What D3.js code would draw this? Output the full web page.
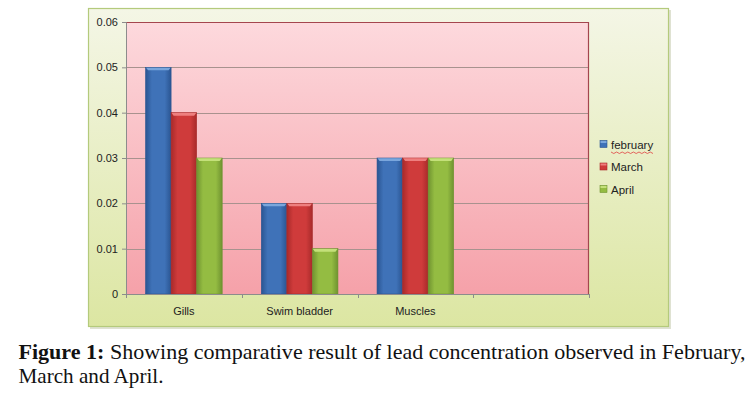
<!DOCTYPE html>
<html><head><meta charset="utf-8">
<script src="https://cdn.jsdelivr.net/npm/d3@7"></script>
<style>body{margin:0;background:#fff}svg{display:block}</style>
</head><body>
<script>
const categories = ["Gills", "Swim bladder", "Muscles", ""];
const seriesNames = ["february", "March", "April"];
const february = [0.05, 0.02, 0.03, null];
const march = [0.04, 0.02, 0.03, null];
const april = [0.03, 0.01, 0.03, null];
const yTicks = [0, 0.01, 0.02, 0.03, 0.04, 0.05, 0.06];
const yTickLabels = ["0", "0.01", "0.02", "0.03", "0.04", "0.05", "0.06"];
const captionBold = "Figure 1:";
const captionLine1 = " Showing comparative result of lead concentration observed in February,";
const captionLine2 = "March and April.";

const seriesValues = [february, march, april];
const colors = [
  {base:"#3f72b8", dark:"#2a5592", light:"#7aa6dc"},
  {base:"#cf3b3b", dark:"#a82a2a", light:"#ee7f7f"},
  {base:"#94bc42", dark:"#6f9330", light:"#c4e07a"}
];

const W = 755, H = 395;
const svg = d3.select("body").append("svg").attr("width", W).attr("height", H);
const defs = svg.append("defs");

const outerG = defs.append("linearGradient").attr("id","outerBg").attr("x1",0).attr("y1",0).attr("x2",0).attr("y2",1);
outerG.append("stop").attr("offset","0%").attr("stop-color","#f4f6e6");
outerG.append("stop").attr("offset","100%").attr("stop-color","#dce6a2");
const plotG = defs.append("linearGradient").attr("id","plotBg").attr("x1",0).attr("y1",0).attr("x2",0).attr("y2",1);
plotG.append("stop").attr("offset","0%").attr("stop-color","#fdd9dd");
plotG.append("stop").attr("offset","100%").attr("stop-color","#f5a1a9");
colors.forEach((c,i)=>{
  const g = defs.append("linearGradient").attr("id","bar"+i).attr("x1",0).attr("y1",0).attr("x2",1).attr("y2",0);
  g.append("stop").attr("offset","0%").attr("stop-color",c.dark);
  g.append("stop").attr("offset","25%").attr("stop-color",c.base);
  g.append("stop").attr("offset","75%").attr("stop-color",c.base);
  g.append("stop").attr("offset","100%").attr("stop-color",c.dark);
});

// outer chart frame
svg.append("rect").attr("x",90).attr("y",10).attr("width",581).attr("height",319).attr("fill","#c9cfb4").attr("opacity",0.6);
svg.append("rect").attr("x",88.5).attr("y",8.5).attr("width",580).attr("height",318)
  .attr("fill","url(#outerBg)").attr("stroke","#b4ca7c").attr("stroke-width",1.2);

const plot = {left:126, right:589, top:22, bottom:294};

const x0 = d3.scaleBand().domain(categories.map((d,i)=>i)).range([plot.left, plot.right]).paddingInner(0).paddingOuter(0);
const x1 = d3.scaleBand().domain(seriesNames).range([0, x0.bandwidth()]).paddingInner(0).paddingOuter(0.765);
const y = d3.scaleLinear().domain([0, 0.06]).range([plot.bottom, plot.top]);

svg.append("rect").attr("x",plot.left).attr("y",plot.top).attr("width",plot.right-plot.left).attr("height",plot.bottom-plot.top).attr("fill","url(#plotBg)");

// gridlines
svg.append("g").selectAll("line").data(yTicks.slice(1,-1)).join("line")
  .attr("x1",plot.left).attr("x2",plot.right)
  .attr("y1",d=>Math.round(y(d))+0.5).attr("y2",d=>Math.round(y(d))+0.5)
  .attr("stroke","#a8928e").attr("stroke-width",1);

// plot border top/right
svg.append("path").attr("d",`M${plot.left},${plot.top+0.5}H${plot.right-0.5}V${plot.bottom}`)
  .attr("fill","none").attr("stroke","#a4464e").attr("stroke-width",1.2);

// bars
const groups = svg.append("g").selectAll("g").data(seriesNames).join("g");
groups.each(function(name, si){
  const g = d3.select(this);
  const data = seriesValues[si].map((v,ci)=>({v,ci})).filter(d=>d.v!=null);
  const bw = x1.bandwidth();
  g.selectAll("rect.b").data(data).join("rect").attr("class","b")
    .attr("x",d=>x0(d.ci)+x1(name)).attr("y",d=>y(d.v))
    .attr("width",bw).attr("height",d=>y(0)-y(d.v))
    .attr("fill","url(#bar"+si+")").attr("stroke",colors[si].dark).attr("stroke-width",0.6);
  g.selectAll("path.top").data(data).join("path").attr("class","top")
    .attr("d",d=>{const xx=x0(d.ci)+x1(name), yy=y(d.v);
      return `M${xx+0.5},${yy+0.3}H${xx+bw-0.5}L${xx+bw-2.5},${yy+3}H${xx+2.5}Z`;})
    .attr("fill",colors[si].light);
});

// axes
const yAxis = d3.axisLeft(y).tickValues(yTicks).tickFormat((d,i)=>yTickLabels[i]).tickSize(4).tickPadding(4);
const ya = svg.append("g").attr("transform",`translate(${plot.left},0)`).call(yAxis);
ya.select(".domain").attr("stroke","#8c8c8c");
ya.selectAll(".tick line").attr("stroke","#8c8c8c");
ya.selectAll("text").attr("font-family","'Liberation Sans', Arial, sans-serif").attr("font-size",11).attr("fill","#222");

const xa = svg.append("g").attr("transform",`translate(0,${plot.bottom})`);
xa.append("line").attr("x1",plot.left).attr("x2",plot.right).attr("y1",0.5).attr("y2",0.5).attr("stroke","#8c8c8c");
xa.selectAll("line.t").data(d3.range(categories.length+1)).join("line").attr("class","t")
  .attr("x1",i=>Math.round(plot.left + i*x0.bandwidth())+0.5).attr("x2",i=>Math.round(plot.left + i*x0.bandwidth())+0.5)
  .attr("y1",0).attr("y2",4).attr("stroke","#8c8c8c");
xa.selectAll("text").data(categories).join("text")
  .attr("x",(d,i)=>x0(i)+x0.bandwidth()/2).attr("y",21)
  .attr("text-anchor","middle").attr("font-family","'Liberation Sans', Arial, sans-serif").attr("font-size",11).attr("fill","#222")
  .text(d=>d);

// legend
const lg = svg.append("g").attr("transform","translate(600,144)");
seriesNames.forEach((n,i)=>{
  const row = lg.append("g").attr("transform",`translate(0,${i*22.5})`);
  row.append("rect").attr("x",0).attr("y",-3.5).attr("width",7).attr("height",7).attr("fill",colors[i].base).attr("stroke",colors[i].dark).attr("stroke-width",0.6);
  row.append("rect").attr("x",0.5).attr("y",-3).attr("width",6).attr("height",2).attr("fill",colors[i].light);
  row.append("text").attr("x",11).attr("y",4.5).attr("font-family","'Liberation Sans', Arial, sans-serif").attr("font-size",11.5).attr("fill","#222").text(n);
  if(i===0){
    let d="M11,8"; for(let k=0;k<15;k++){d+=` l2.8,${k%2?-1.5:1.5}`;}
    row.append("path").attr("d",d).attr("fill","none").attr("stroke","#e04040").attr("stroke-width",0.8);
  }
});

// caption
const cap1 = svg.append("text").attr("x",18.5).attr("y",359).attr("font-family","'Liberation Serif','Times New Roman',serif").attr("font-size",21).attr("fill","#111")
  .attr("textLength",727).attr("lengthAdjust","spacingAndGlyphs");
cap1.append("tspan").attr("font-weight","bold").text(captionBold);
cap1.append("tspan").text(captionLine1);
svg.append("text").attr("x",18.5).attr("y",383).attr("font-family","'Liberation Serif','Times New Roman',serif").attr("font-size",21).attr("fill","#111")
  .attr("textLength",145).attr("lengthAdjust","spacingAndGlyphs").text(captionLine2);
</script>
</body></html>
